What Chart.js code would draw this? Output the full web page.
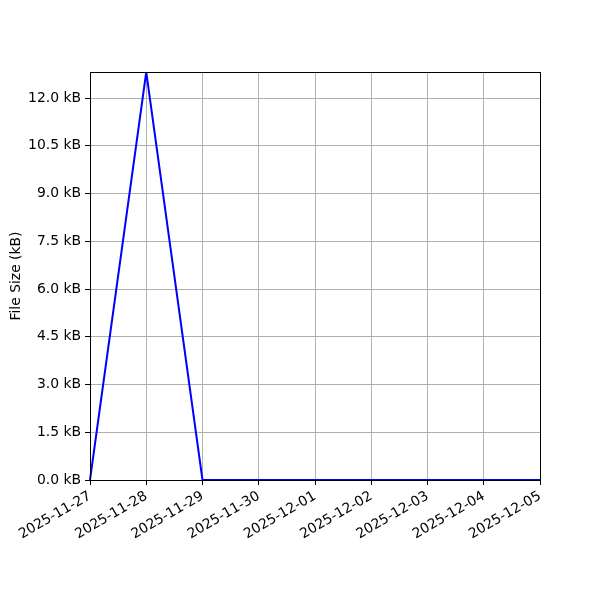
<!DOCTYPE html>
<html>
<head>
<meta charset="utf-8">
<script src="https://cdn.jsdelivr.net/npm/chart.js@4"></script>
<style>
  html, body { margin: 0; padding: 0; background: #fff; }
  #wrap { width: 600px; height: 600px; }
</style>
</head>
<body>
<div id="wrap"><canvas id="myChart" width="600" height="600"></canvas></div>
<script>
const dates = ['2025-11-27', '2025-11-28', '2025-11-29', '2025-11-30', '2025-12-01',
  '2025-12-02', '2025-12-03', '2025-12-04', '2025-12-05']
const sizeKb = [0, 12.82, 0, 0, 0, 0, 0, 0, 0]
const yTicks = [0, 1.5, 3.0, 4.5, 6.0, 7.5, 9.0, 10.5, 12.0]
const yMax = 12.82

// matplotlib style box around the plot
const frame = {
  id: 'frame',
  afterDraw(chart) {
    const a = chart.chartArea
    const ctx = chart.ctx
    ctx.save()
    ctx.strokeStyle = '#000'
    ctx.lineWidth = 1
    ctx.strokeRect(Math.round(a.left) + 0.5, Math.round(a.top) + 0.5,
      Math.round(a.right - a.left), Math.round(a.bottom - a.top))
    ctx.restore()
  }
}

const font = { family: 'DejaVu Sans', size: 13.9 }

new Chart(document.getElementById('myChart'), {
  type: 'line',
  data: {
    labels: dates,
    datasets: [{
      data: sizeKb,
      borderColor: '#0000ff',
      borderWidth: 2,
      pointRadius: 0,
      tension: 0,
      fill: false
    }]
  },
  options: {
    responsive: false,
    animation: false,
    layout: { padding: { left: 4, top: 72, right: 60, bottom: 0 } },
    plugins: { legend: { display: false }, tooltip: { enabled: false } },
    scales: {
      x: {
        offset: false,
        afterFit: (s) => { s.height = 120 },
        grid: { color: '#b0b0b0', tickColor: '#000', tickLength: 5 },
        border: { color: '#000' },
        ticks: { font: font, color: '#000', minRotation: 30, maxRotation: 30, padding: 3, autoSkip: false }
      },
      y: {
        min: 0,
        max: yMax,
        afterFit: (s) => { s.width = 86 },
        afterBuildTicks: (s) => { s.ticks = yTicks.map(v => ({ value: v })) },
        grid: { color: '#b0b0b0', tickColor: '#000', tickLength: 5 },
        border: { color: '#000' },
        ticks: { font: font, color: '#000', padding: 4, callback: (v) => v.toFixed(1) + ' kB' },
        title: { display: true, text: 'File Size (kB)', font: font, color: '#000', padding: { top: 4, bottom: 4 } }
      }
    }
  },
  plugins: [frame]
})
</script>
</body>
</html>
